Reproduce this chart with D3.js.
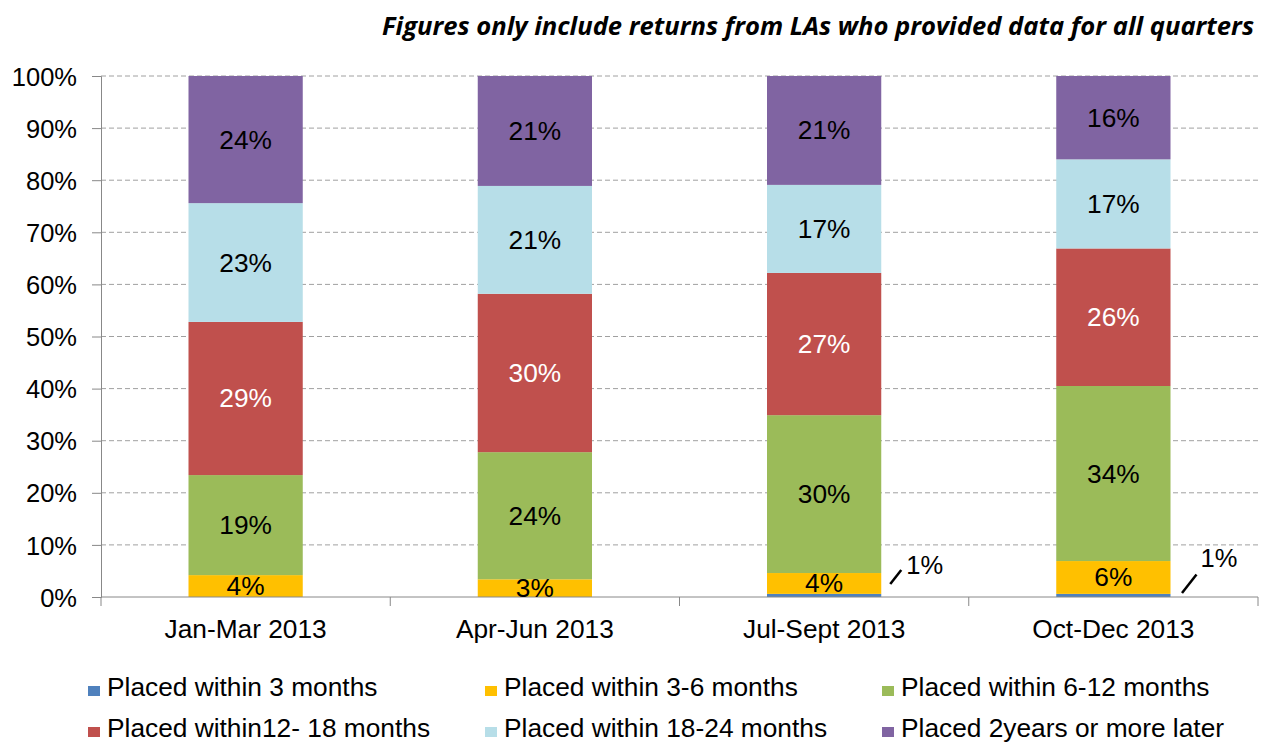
<!DOCTYPE html>
<html>
<head>
<meta charset="utf-8">
<script src="https://cdn.jsdelivr.net/npm/d3@7"></script>
<style>
  body { margin: 0; background: #fff; }
  svg text { font-family: "Liberation Sans", Arial, sans-serif; }
</style>
</head>
<body>
<div id="chart"></div>
<script>
// Chart data
const quarters = ["Jan-Mar 2013", "Apr-Jun 2013", "Jul-Sept 2013", "Oct-Dec 2013"];
const seriesNames = [
    "Placed within 3 months",
    "Placed within 3-6 months",
    "Placed within 6-12 months",
    "Placed within12- 18 months",
    "Placed within 18-24 months",
    "Placed 2years or more later"
];
const within3 = [0, 0, 0.6, 0.6];
const within3to6 = [4.2, 3.4, 4.0, 6.3];
const within6to12 = [19.2, 24.4, 30.3, 33.6];
const within12to18 = [29.4, 30.4, 27.3, 26.4];
const within18to24 = [22.8, 20.7, 16.9, 17.1];
const twoYearsPlus = [24.4, 21.1, 20.9, 16.0];
const yTicks = [0, 10, 20, 30, 40, 50, 60, 70, 80, 90, 100];
const colors = ["#4F81BD", "#FFC000", "#9BBB59", "#C0504D", "#B7DEE8", "#8064A2"];

const width = 1263, height = 744;
const margin = { top: 76, right: 5, bottom: 147, left: 101 };
const fs = 26.3;

const svg = d3.select('#chart').append('svg')
    .attr('width', width)
    .attr('height', height);

// Build rows for stacking
const allSeries = [within3, within3to6, within6to12, within12to18, within18to24, twoYearsPlus];
const keys = d3.range(seriesNames.length);
const rows = quarters.map((q, i) => {
    const r = { quarter: q };
    keys.forEach(k => { r[k] = allSeries[k][i]; });
    return r;
});
const stacked = d3.stack().keys(keys)(rows);

const x = d3.scaleBand()
    .domain(quarters)
    .range([margin.left, width - margin.right])
    .padding(0);

const y = d3.scaleLinear()
    .domain([0, 100])
    .range([height - margin.bottom, margin.top]);

const barW = x.bandwidth() * 0.395;
const barRight = q => x(q) + x.bandwidth() / 2 + barW / 2;

// Gridlines
svg.append('g')
    .selectAll('line')
    .data(yTicks.filter(t => t > 0))
    .join('line')
    .attr('x1', margin.left)
    .attr('x2', width - margin.right)
    .attr('y1', d => y(d))
    .attr('y2', d => y(d))
    .attr('stroke', '#a0a0a0')
    .attr('stroke-width', 1)
    .attr('stroke-dasharray', '5,3');

// Bars
svg.append('g')
    .selectAll('g')
    .data(stacked)
    .join('g')
    .attr('fill', d => colors[d.key])
    .selectAll('rect')
    .data(d => d)
    .join('rect')
    .attr('x', d => x(d.data.quarter) + (x.bandwidth() - barW) / 2)
    .attr('y', d => y(d[1]))
    .attr('width', barW)
    .attr('height', d => y(d[0]) - y(d[1]));

// Y axis
const yAxis = svg.append('g')
    .attr('transform', `translate(${margin.left},0)`)
    .call(d3.axisLeft(y).tickValues(yTicks).tickFormat(d => d + '%').tickSizeOuter(0).tickSize(9).tickPadding(15));
yAxis.selectAll('path, line').attr('stroke', '#888');
yAxis.selectAll('text').attr('font-size', 25.5).attr('fill', '#000').attr('dy', '0.36em')
    .style('font-family', '"Liberation Sans", Arial, sans-serif');

// X axis with boundary ticks
const xAxisG = svg.append('g')
    .attr('transform', `translate(0,${y(0)})`);
xAxisG.append('line')
    .attr('x1', margin.left).attr('x2', width - margin.right)
    .attr('stroke', '#888');
const bounds = quarters.map(q => x(q)).concat([x(quarters[quarters.length - 1]) + x.bandwidth()]);
xAxisG.selectAll('.bt')
    .data(bounds)
    .join('line')
    .attr('class', 'bt')
    .attr('x1', d => d).attr('x2', d => d)
    .attr('y1', 0).attr('y2', 9)
    .attr('stroke', '#888');
xAxisG.selectAll('.xl')
    .data(quarters)
    .join('text')
    .attr('class', 'xl')
    .attr('x', d => x(d) + x.bandwidth() / 2)
    .attr('y', 41)
    .attr('text-anchor', 'middle')
    .attr('font-size', fs)
    .text(d => d);

// Segment labels
const labels = [];
stacked.forEach(s => {
    if (s.key === 0) return;
    s.forEach(d => {
        labels.push({ key: s.key, quarter: d.data.quarter, v: d[1] - d[0], mid: (d[0] + d[1]) / 2 });
    });
});
svg.append('g')
    .selectAll('text')
    .data(labels)
    .join('text')
    .attr('x', d => x(d.quarter) + x.bandwidth() / 2)
    .attr('y', d => y(d.mid) + 9)
    .attr('text-anchor', 'middle')
    .attr('font-size', fs)
    .attr('fill', d => d.key === 3 ? '#fff' : '#000')
    .text(d => Math.round(d.v) + '%');

// Leader labels for the smallest segment
const smallOnes = quarters.map((q, i) => ({ quarter: q, v: within3[i], i })).filter(d => d.v > 0);
const callout = svg.append('g');
callout.selectAll('line')
    .data(smallOnes)
    .join('line')
    .attr('x1', d => barRight(d.quarter) + (d.i === 3 ? 11.5 : 9))
    .attr('y1', d => y(0) - (d.i === 3 ? 4 : 13))
    .attr('x2', d => barRight(d.quarter) + (d.i === 3 ? 26 : 20))
    .attr('y2', d => y(0) - (d.i === 3 ? 22.5 : 27))
    .attr('stroke', '#000')
    .attr('stroke-width', 2.5);
callout.selectAll('text')
    .data(smallOnes)
    .join('text')
    .attr('x', d => barRight(d.quarter) + (d.i === 3 ? 30 : 25))
    .attr('y', d => y(0) - (d.i === 3 ? 30 : 23))
    .attr('font-size', 25.5)
    .text(d => Math.round(d.v) + '%');

// Title
svg.append('text')
    .attr('x', 1254)
    .attr('y', 35)
    .attr('text-anchor', 'end')
    .attr('font-size', 25)
    .attr('font-weight', 'bold')
    .attr('font-style', 'italic')
    .style('font-family', '"Open Sans", sans-serif')
    .attr('textLength', 872)
    .attr('lengthAdjust', 'spacingAndGlyphs')
    .text('Figures only include returns from LAs who provided data for all quarters');

// Legend
const legend = svg.append('g');
const legendItems = legend.selectAll('g')
    .data(seriesNames)
    .join('g')
    .attr('transform', (d, i) => `translate(${88 + (i % 3) * 397},${696 + Math.floor(i / 3) * 41})`);
legendItems.append('rect')
    .attr('x', 0).attr('y', -10)
    .attr('width', 12).attr('height', 10)
    .attr('fill', (d, i) => colors[i]);
legendItems.append('text')
    .attr('x', 19)
    .attr('y', 0)
    .attr('font-size', fs)
    .text(d => d);
</script>
</body>
</html>
